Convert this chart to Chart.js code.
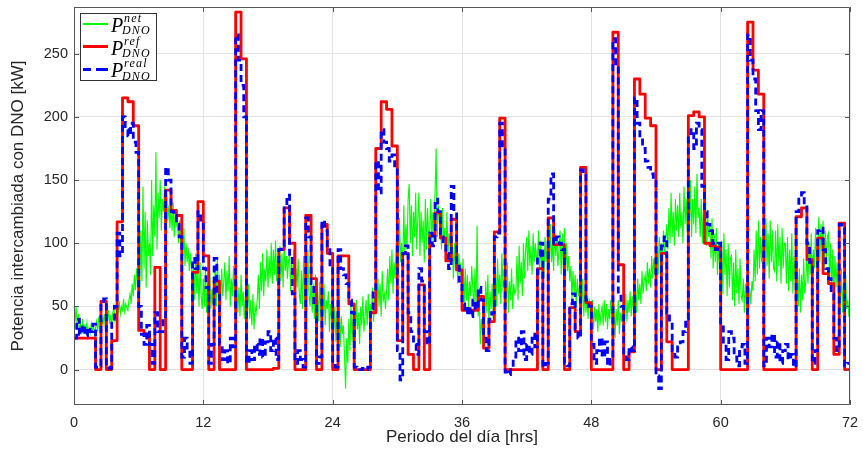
<!DOCTYPE html>
<html><head><meta charset="utf-8">
<script src="https://cdn.jsdelivr.net/npm/chart.js@4.4.1/dist/chart.umd.min.js"></script>
<style>
body{margin:0;background:#fff;}
#wrap{position:relative;width:863px;height:454px;}
#leg{position:absolute;left:80px;top:13px;width:77px;height:68px;border:1px solid #333;background:#fff;box-sizing:border-box;}
.ln{position:absolute;left:2px;width:25px;}
.P{position:absolute;left:30px;font:italic 20px "Liberation Serif",serif;color:#000;line-height:20px;white-space:nowrap;}
.s{position:absolute;font:italic 12px "Liberation Serif",serif;line-height:12px;color:#000;white-space:nowrap;letter-spacing:1.2px;}
</style></head>
<body><div id="wrap"><canvas id="c" width="863" height="454"></canvas>
<div id="leg">
  <div class="ln" style="top:9px;height:2px;background:#00ff00;"></div>
  <div class="P" style="top:1px;">P</div><div class="s" style="left:43px;top:-2px;">net</div><div class="s" style="left:41px;top:10px;">DNO</div>
  <div class="ln" style="top:31px;height:3px;background:#ff0000;"></div>
  <div class="P" style="top:23.5px;">P</div><div class="s" style="left:43px;top:20.5px;">ref</div><div class="s" style="left:41px;top:33px;">DNO</div>
  <div class="ln" style="top:54px;height:3px;background:linear-gradient(to right,#0000ff 0 8px,transparent 8px 13px,#0000ff 13px 25px);"></div>
  <div class="P" style="top:46px;">P</div><div class="s" style="left:43px;top:43px;">real</div><div class="s" style="left:41px;top:55.5px;">DNO</div>
</div></div>
<script>
const xTicks = [0, 12, 24, 36, 48, 60, 72];
const yTicks = [0, 50, 100, 150, 200, 250];
const redStep = 0.5, blueStep = 0.25, greenStep = 0.1;

// P_DNO^ref : one value per half hour
const redValues = [
 25,25,25,25,0,54,0,23,117,215,212,193,31,28,0,81,0,142,126,122,0,0,77,133,
 90,0,70,0,0,0,283,246,0,0,0,0,0,1,95,128,100,0,0,122,72,0,115,92,
 0,90,90,52,0,0,0,45,175,212,206,177,23,92,12,0,67,0,106,124,104,86,119,79,
 47,47,47,58,17,38,109,199,0,0,0,0,0,0,80,0,120,99,99,0,49,30,160,53,
 0,0,0,0,267,83,0,14,230,218,199,193,0,92,22,0,0,0,201,204,200,100,98,97,
 0,0,0,0,0,275,237,218,0,0,0,0,0,0,121,128,87,0,104,76,68,12,116,0
];

// P_DNO^real : one value per quarter hour
const blueValues = [
 25,40,28,35, 27,33,30,36, 2,3,52,56, 2,1,38,50, 108,90,200,190, 185,195,180,172,
 50,28,20,35, 20,5,45,30, 30,40,160,150, 125,122,115,105, 10,25,15,5, 88,80,125,115,
 80,65,5,20, 88,60,20,8, 15,5,25,18, 265,245,225,200, 5,15,8,20, 12,25,10,22,
 30,15,25,8, 95,98,130,138, 90,60,5,15, 8,2,120,105, 68,50,5,10, 118,110,95,80,
 5,2,95,80, 75,68,55,45, 2,1,0,1, 0,2,48,62, 165,140,190,180, 175,165,170,160,
 15,-8,92,98, 45,30,20,12, 80,70,30,20, 108,98,135,125, 105,100,92,80, 145,125,85,70,
 52,45,50,42, 55,48,65,55, 25,15,40,45, 105,108,195,175, -2,-4,0,10, 25,15,30,8,
 20,12,28,18, 90,100,2,5, 135,155,100,105, 100,95,5,3, 52,60,32,25, 158,155,55,50,
 20,5,15,25, 10,22,3,8, 262,240,60,50, 12,8,18,15, 215,195,185,175, 165,160,155,150,
 -5,-15,98,105, 45,38,15,10, 18,22,30,40, 185,190,175,195, 190,145,125,115, 110,100,95,100,
 35,20,8,30, 25,10,3,18, 20,5,265,245, 230,205,190,205, 3,25,18,28, 10,22,5,15,
 20,8,12,2, 125,135,140,130, 100,85,5,15, 110,112,95,80, 72,60,25,15, 115,112,3,5,
 5
];

// P_DNO^net : one value every 0.1 h
const greenValues = [
 45,38,50,32,44,30,36,28,40,33, 35,30,37,27,33,29,36,31,34,28,
 33,38,30,42,35,31,40,36,44,34, 40,36,47,38,42,35,45,50,39,43,
 48,45,54,44,50,47,56,46,52,49, 47,55,60,52,68,58,75,63,80,70,
 85,60,110,70,145,80,125,65,118,90, 100,75,150,90,130,105,172,95,140,120,
 150,110,135,125,145,105,140,118,130,112, 128,110,132,105,125,115,120,100,118,98,
 108,90,112,82,100,85,96,78,92,80, 70,88,55,92,60,78,50,85,58,48,
 72,50,82,45,68,55,78,48,64,52, 60,82,50,88,55,75,48,80,58,70,
 85,55,78,62,90,50,72,58,82,48, 55,70,45,65,42,75,50,62,40,58,
 62,45,68,40,55,35,60,32,50,45, 55,75,48,85,62,92,58,80,70,95,
 65,90,72,100,68,95,75,102,70,88, 80,98,70,92,65,100,78,90,72,85,
 92,62,85,70,95,58,80,65,88,60, 52,78,48,90,55,70,45,95,60,50,
 72,45,68,40,75,50,62,38,70,45, 58,42,68,35,55,48,62,30,52,40,
 55,30,50,22,45,35,58,18,42,28, 35,10,-15,25,5,40,15,52,22,45,
 48,25,55,32,45,20,50,35,58,30, 42,55,35,60,40,52,45,65,38,58,
 65,45,72,50,68,42,78,55,60,48, 62,80,55,90,68,95,60,85,72,100,
 110,78,120,85,100,75,130,90,115,95, 135,147,100,130,90,125,105,140,95,120,
 140,90,125,100,118,85,135,95,128,105, 110,135,100,125,115,140,175,105,130,118,
 120,95,128,100,112,88,125,92,108,98, 85,105,72,100,78,95,68,92,75,85,
 62,88,50,80,55,75,48,70,58,82, 65,45,80,50,114,42,60,20,40,30,
 55,38,70,45,75,35,62,48,68,40, 55,80,50,88,60,75,52,92,65,70,
 78,50,85,45,70,55,80,48,68,60, 62,90,55,98,68,85,58,100,72,95,
 105,78,110,82,98,75,108,85,100,90, 88,110,75,102,80,95,72,105,85,98,
 108,80,115,85,100,78,112,90,105,82, 95,110,75,108,80,112,72,100,78,90,
 70,82,55,78,60,75,50,72,58,65, 68,48,72,42,62,45,58,40,55,50,
 42,55,32,50,38,48,30,52,35,45, 50,35,55,38,52,32,48,40,55,42,
 32,52,25,48,35,55,28,45,38,50, 52,40,60,38,55,45,62,42,58,48,
 50,65,45,72,55,68,52,78,60,70, 75,62,85,68,80,65,90,72,88,78,
 82,98,75,105,88,100,80,110,92,102, 115,95,128,100,140,105,125,98,135,110,
 130,105,140,112,125,100,145,115,135,108, 140,110,150,105,135,115,145,108,155,120,
 128,105,135,100,125,110,132,98,120,105, 115,88,120,80,108,85,112,75,100,82,
 70,102,60,108,75,95,58,100,65,88, 90,55,85,50,95,60,80,52,88,58,
 55,72,45,68,50,75,48,65,52,70, 62,95,70,110,75,118,80,105,85,112,
 115,75,120,82,108,72,118,85,110,80, 78,110,70,115,82,105,68,112,80,100,
 100,68,105,62,95,70,108,60,90,72, 62,85,50,80,45,75,55,88,60,70,
 92,68,100,75,108,70,95,80,112,85, 90,121,85,115,95,118,80,110,88,105,
 108,70,100,62,95,58,90,65,85,60, 72,50,80,45,68,40,75,48,55,42,
 42
];

function series(vals, step, extendTo) {
  const pts = vals.map((v, i) => ({ x: +(i * step).toFixed(4), y: v }));
  if (extendTo !== undefined) pts.push({ x: extendTo, y: vals[vals.length - 1] });
  return pts;
}

const frame = {
  id: 'frame',
  afterDatasetsDraw(chart) {
    const { ctx, chartArea: { left, right, top, bottom }, scales: { x, y } } = chart;
    ctx.save();
    ctx.strokeStyle = '#555';
    ctx.lineWidth = 1;
    ctx.beginPath();
    ctx.rect(left + 0.5, top + 0.5, right - left - 1, bottom - top - 1);
    xTicks.forEach(v => {
      const px = Math.round(x.getPixelForValue(v)) + 0.5;
      ctx.moveTo(px, bottom); ctx.lineTo(px, bottom - 5);
      ctx.moveTo(px, top); ctx.lineTo(px, top + 5);
    });
    yTicks.forEach(v => {
      const py = Math.round(y.getPixelForValue(v)) + 0.5;
      ctx.moveTo(left, py); ctx.lineTo(left + 5, py);
      ctx.moveTo(right, py); ctx.lineTo(right - 5, py);
    });
    ctx.stroke();
    ctx.restore();
  }
};

new Chart(document.getElementById('c'), {
  type: 'line',
  data: { datasets: [
    { label: 'net', data: series(greenValues, greenStep), borderColor: '#00ff00', borderWidth: 1.1, pointRadius: 0, order: 3 },
    { label: 'ref', data: series(redValues, redStep, 72), borderColor: '#ff0000', borderWidth: 2.8, pointRadius: 0, stepped: 'before', borderJoinStyle: 'round', order: 2 },
    { label: 'real', data: series(blueValues, blueStep), borderColor: '#0000ff', borderWidth: 2.8, borderDash: [7, 4], pointRadius: 0, stepped: 'before', order: 1 }
  ]},
  options: {
    responsive: false, animation: false, events: [],
    layout: { padding: { top: 7, right: 13, left: 0, bottom: 0 } },
    plugins: { legend: { display: false }, tooltip: { enabled: false } },
    scales: {
      x: {
        type: 'linear', min: 0, max: 72,
        afterBuildTicks: s => { s.ticks = xTicks.map(v => ({ value: v })); },
        afterFit: s => { s.height = 49; s.paddingLeft = 0; s.paddingRight = 0; },
        grid: { color: '#e3e3e3', drawTicks: false },
        border: { display: false },
        ticks: { padding: 9, color: '#262626', maxRotation: 0, autoSkip: false, font: { family: 'Liberation Sans, Arial, sans-serif', size: 14.5 } },
        title: { display: true, text: 'Periodo del día [hrs]', color: '#262626', font: { family: 'Liberation Sans, Arial, sans-serif', size: 17 }, padding: { top: 0, bottom: 6 } }
      },
      y: {
        type: 'linear', min: -28, max: 287,
        afterBuildTicks: s => { s.ticks = yTicks.map(v => ({ value: v })); },
        afterFit: s => { s.width = 74; s.paddingTop = 0; s.paddingBottom = 0; },
        grid: { color: '#e3e3e3', drawTicks: false },
        border: { display: false },
        ticks: { padding: 6, color: '#262626', font: { family: 'Liberation Sans, Arial, sans-serif', size: 14.5 } },
        title: { display: true, text: 'Potencia intercambiada con DNO [kW]', color: '#262626', font: { family: 'Liberation Sans, Arial, sans-serif', size: 17 }, padding: { top: 8, bottom: 0 } }
      }
    }
  },
  plugins: [frame]
});
</script>
</body></html>
